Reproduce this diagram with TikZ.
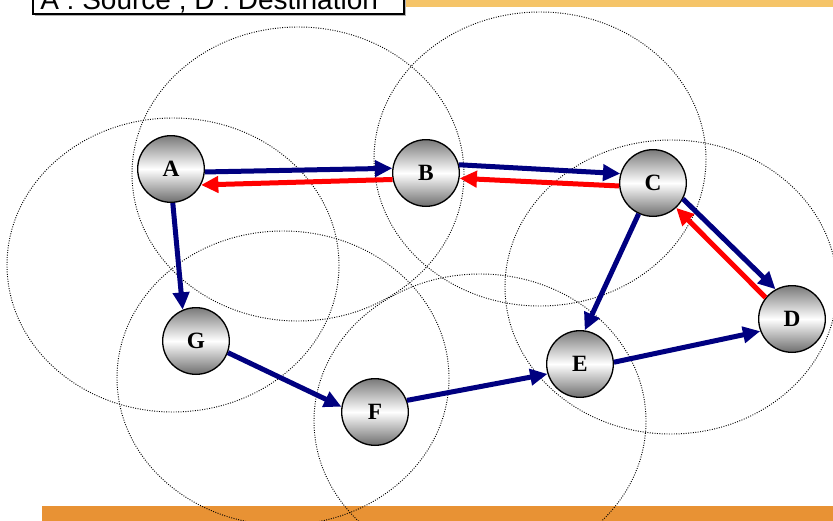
\documentclass[tikz,border=0pt]{standalone}
\usepackage{fontspec}
\setmainfont{Liberation Serif}
\newfontfamily\boxfont{Liberation Sans}
\usetikzlibrary{arrows.meta}
\definecolor{navyc}{HTML}{000080}
\definecolor{redc}{HTML}{FF0000}
\definecolor{topbarc}{HTML}{F5C468}
\definecolor{botbarc}{HTML}{E89234}
\definecolor{nodegray}{HTML}{7A7A7A}
\tikzset{
  station/.style={circle, draw=black, line width=1pt, minimum size=50pt, inner sep=0pt,
    top color=nodegray, bottom color=nodegray!90!black, middle color=white,
    font=\bfseries\fontsize{17.5}{20}\selectfont},
  radiorange/.style={draw=black, line width=0.7pt, dash pattern=on 0.7pt off 1.1pt},
  fwd/.style={draw=navyc, fill=navyc, line width=3.75pt, -{Triangle[length=13pt,width=12pt]}},
  rev/.style={draw=redc, fill=redc, line width=3.75pt, -{Triangle[length=13pt,width=12pt]}},
  legendtxt/.style={font=\boxfont\fontsize{21}{24}\selectfont, anchor=base west, inner sep=0pt}
}
\begin{document}
\begin{tikzpicture}[x=0.75pt,y=-0.75pt]
\useasboundingbox (0,0) rectangle (833,521);
% bars
\fill[topbarc] (405,0) rectangle (833,7);
\fill[botbarc] (42,506) rectangle (833,521);
% legend box with shadow
\fill[black!30] (35,-8) rectangle (406,16);
\filldraw[fill=white, draw=black, line width=0.9pt] (33,-10) rectangle (404,14);
\node[legendtxt] (legend) at (40,9.5) {A : Source , D : Destination};
% radio ranges
\draw[radiorange] (173,265) ellipse [x radius=166, y radius=147];
\draw[radiorange] (298,174) ellipse [x radius=166, y radius=147];
\draw[radiorange] (540,159) ellipse [x radius=166, y radius=147];
\draw[radiorange] (671,287) ellipse [x radius=166, y radius=147];
\draw[radiorange] (283,378) ellipse [x radius=166, y radius=147];
\draw[radiorange] (480,421) ellipse [x radius=166, y radius=147];
% stations
\node[station] (A) at (171,169) {A};
\node[station] (B) at (426,173) {B};
\node[station] (C) at (653,183) {C};
\node[station] (D) at (792,319) {D};
\node[station] (E) at (580,364) {E};
\node[station] (F) at (375,412) {F};
\node[station] (G) at (196,341) {G};
% routes
\draw[fwd] (A.-5) -- (B.172);
\draw[rev] (B.191) -- (A.-28);
\draw[fwd] (B.14) -- (C.164);
\draw[rev] (C.185) -- (B.-9);
\draw[fwd] (C.-28) -- (D.119);
\draw[rev] (D.141) -- (C.-47);
\draw[fwd] (C.245) -- (E.82);
\draw[fwd] (E.3) -- (D.201);
\draw[fwd] (A.-87) -- (G.113);
\draw[fwd] (G.-20) -- (F.171);
\draw[fwd] (F.20) -- (E.197);
\end{tikzpicture}
\end{document}
